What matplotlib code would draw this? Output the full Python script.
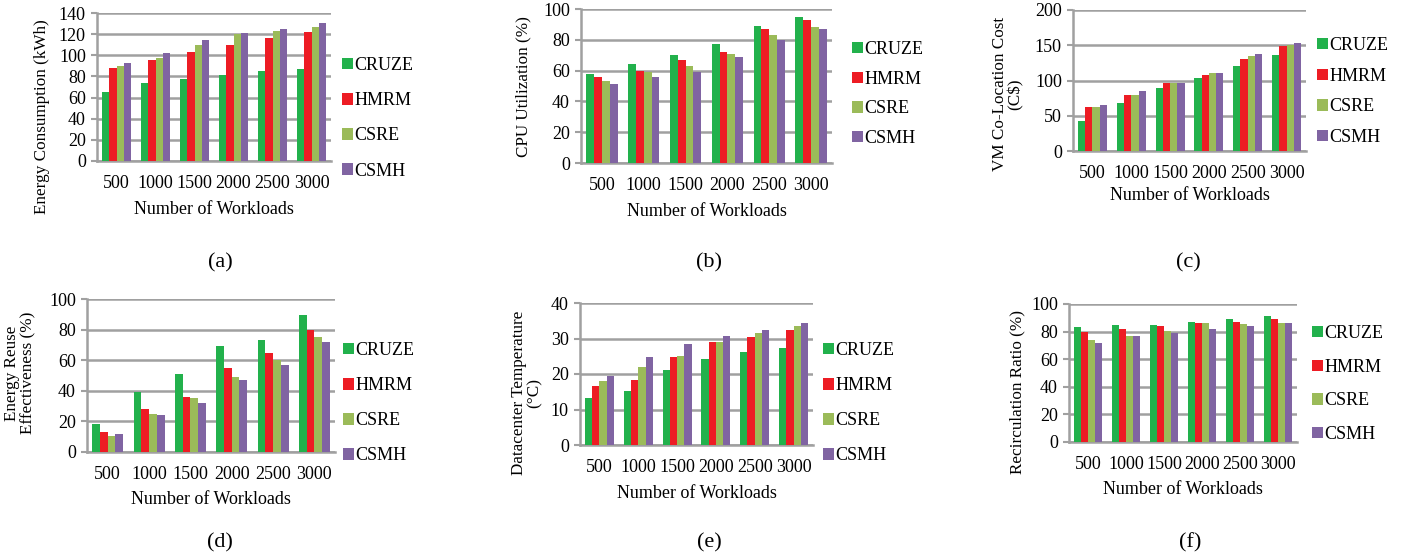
import matplotlib.pyplot as plt
from matplotlib.patches import Patch

plt.rcParams['font.family'] = ['Liberation Serif', 'DejaVu Serif']

workloads = ['500', '1000', '1500', '2000', '2500', '3000']
methods = ['CRUZE', 'HMRM', 'CSRE', 'CSMH']
colors = ['#22B14C', '#ED1C24', '#9BBB59', '#8064A2']

# (a) energy consumption, kWh
energy_cruze = [65, 74, 78, 81, 85, 87]
energy_hmrm = [88, 96, 103, 110, 116, 122]
energy_csre = [90, 97, 110, 120, 123, 127]
energy_csmh = [93, 102, 114, 121, 125, 131]

# (b) CPU utilization, %
cpu_cruze = [58, 64, 70, 77, 89, 95]
cpu_hmrm = [56, 60, 67, 72, 87, 93]
cpu_csre = [53, 59, 63, 71, 83, 88]
cpu_csmh = [51, 56, 59, 69, 80, 87]

# (c) VM co-location cost, C$
cost_cruze = [42, 68, 89, 104, 121, 136]
cost_hmrm = [62, 79, 96, 108, 130, 149]
cost_csre = [63, 80, 96, 111, 135, 151]
cost_csmh = [65, 85, 97, 111, 137, 153]

# (d) energy reuse effectiveness, %
ere_cruze = [18, 39.5, 51, 69, 73, 89.5]
ere_hmrm = [13, 28, 36, 55, 64.5, 79.5]
ere_csre = [10.5, 25, 35, 49, 60, 75]
ere_csmh = [11.5, 24, 32, 47, 57, 72]

# (e) datacenter temperature, deg C
temp_cruze = [13.1, 15.1, 21.2, 24.2, 26.2, 27.3]
temp_hmrm = [16.7, 18.4, 24.8, 29.1, 30.4, 32.5]
temp_csre = [18.0, 21.9, 25.0, 28.9, 31.5, 33.5]
temp_csmh = [19.4, 24.9, 28.4, 30.8, 32.4, 34.3]

# (f) recirculation ratio, %
recirc_cruze = [83, 85, 85, 87, 89, 91.5]
recirc_hmrm = [80, 82, 84, 86, 87, 89]
recirc_csre = [74, 77, 80.5, 86.5, 85.5, 86.5]
recirc_csmh = [71.5, 76.5, 79, 82, 84, 86.5]

panels = [
    ('(a)', 'Energy Consumption (kWh)', [energy_cruze, energy_hmrm, energy_csre, energy_csmh], 140, 20),
    ('(b)', 'CPU Utilization (%)', [cpu_cruze, cpu_hmrm, cpu_csre, cpu_csmh], 100, 20),
    ('(c)', 'VM Co-Location Cost\n(C$)', [cost_cruze, cost_hmrm, cost_csre, cost_csmh], 200, 50),
    ('(d)', 'Energy Reuse\nEffectiveness (%)', [ere_cruze, ere_hmrm, ere_csre, ere_csmh], 100, 20),
    ('(e)', 'Datacenter Temperature\n(°C)', [temp_cruze, temp_hmrm, temp_csre, temp_csmh], 40, 10),
    ('(f)', 'Recirculation Ratio (%)', [recirc_cruze, recirc_hmrm, recirc_csre, recirc_csmh], 100, 20),
]

# pixel layout: plot box (left, top, right, bottom), ylabel (x, y), xlabel y,
# legend first-entry y, legend x, legend step, caption (x, y)
W, H = 1403, 557
layout = [
    ((97, 13, 331, 161), (42, 117), 210, 63, 342, 35.5, (220, 263)),
    ((581, 9, 832, 163), (523, 87), 211, 47, 852, 30, (709, 263)),
    ((1073, 10, 1306, 151), (1008, 94), 196, 43, 1317, 31, (1188, 263)),
    ((87, 299, 335, 452), (20, 373), 500, 348, 343, 35.5, (220, 543)),
    ((580, 303, 813, 445), (527, 393), 493, 348, 823, 35.5, (709, 543)),
    ((1069, 304, 1297, 442), (1017, 392), 490, 331, 1312, 34, (1190, 543)),
]

fig = plt.figure(figsize=(W / 100, H / 100), dpi=100)
grid_color = '#A0A0A0'
x = range(len(workloads))
bw = 0.1875
fs_tick, fs_ylab, fs_xlab, fs_leg = 13, 12.3, 13, 13

for (cap, ylab, series, ymax, ystep), (box, ylxy, xly, legy, legx, legstep, capxy) in zip(panels, layout):
    l, t, r, b = box
    ax = fig.add_axes([l / W, 1 - b / H, (r - l) / W, (b - t) / H])
    for i, (vals, c) in enumerate(zip(series, colors)):
        offs = (i - 1.5) * bw
        ax.bar([k + offs for k in x], vals, bw, color=c, zorder=3)
    ax.set_xlim(-0.5, len(workloads) - 0.5)
    ax.set_ylim(0, ymax)
    ax.set_yticks(range(0, ymax + 1, ystep))
    ax.set_xticks(list(x))
    ax.set_xticklabels(workloads)
    ax.tick_params(axis='x', length=0, pad=10, labelsize=fs_tick)
    ax.tick_params(axis='y', length=4, width=1.5, color=grid_color, pad=4, labelsize=fs_tick)
    ax.yaxis.grid(True, color=grid_color, lw=1.8, zorder=0)
    for s in ['top', 'right']:
        ax.spines[s].set_visible(False)
    for s in ['left', 'bottom']:
        ax.spines[s].set_color(grid_color)
        ax.spines[s].set_linewidth(1.8)
    ax.set_ylabel(ylab, fontsize=fs_ylab, linespacing=1.0)
    ax.yaxis.label.set_va('center')
    ax.yaxis.set_label_coords((ylxy[0] - l) / (r - l), (b - ylxy[1]) / (b - t))
    ax.set_xlabel('Number of Workloads', fontsize=fs_xlab)
    ax.xaxis.label.set_va('center')
    ax.xaxis.set_label_coords(0.5, (b - xly) / (b - t))

    fpx = fs_leg * 100 / 72
    handles = [Patch(facecolor=c) for c in colors]
    ax.legend(handles, methods, loc='upper left', frameon=False, fontsize=fs_leg,
              bbox_to_anchor=(legx / W, 1 - (legy - 6) / H), bbox_transform=fig.transFigure,
              handlelength=0.6, handleheight=0.6, handletextpad=0.1,
              labelspacing=(legstep - 0.96 * fpx) / fpx, borderpad=0, borderaxespad=0)
    fig.text(capxy[0] / W, 1 - capxy[1] / H, cap, ha='center', va='center', fontsize=16)

fig.savefig('out.png', dpi=100)
